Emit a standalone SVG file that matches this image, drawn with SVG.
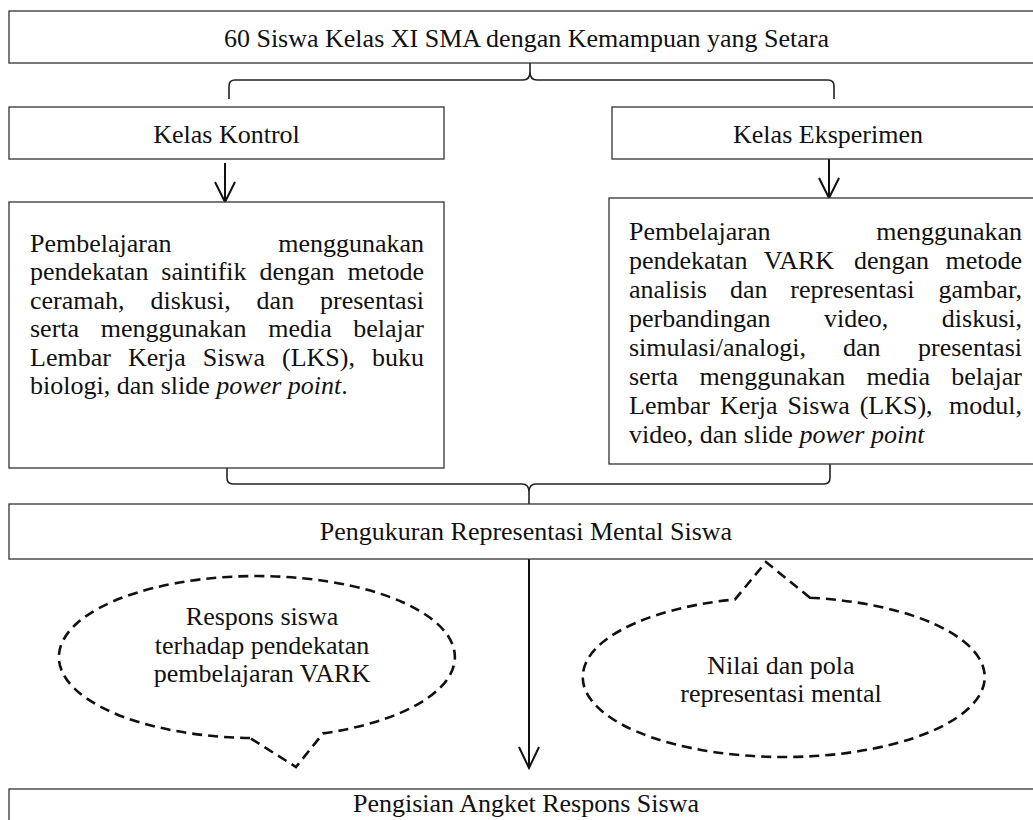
<svg xmlns="http://www.w3.org/2000/svg" width="1033" height="820" viewBox="0 0 1033 820">
<style>
.box{fill:#fff;stroke:#333;stroke-width:1.3}
.t{font-family:"Liberation Serif","Times New Roman",serif;font-size:26px;fill:#111}
.c{text-anchor:middle}
.e{text-anchor:end}
.i{font-style:italic}
.ln{fill:none;stroke:#111;stroke-width:2}
.br{fill:none;stroke:#222;stroke-width:1.6}
.bub{fill:none;stroke:#111;stroke-width:2.6;stroke-dasharray:10 6}
</style>
<rect width="1033" height="820" fill="#fff"/>
<g id="connectors">
<path class="br" d="M229,99 L229,86 Q229,80 235,80 L523,80 Q530,80 530,72 L530,63 M530,72 Q530,80 537,80 L828,80 Q834,80 834,86 L834,99"/>
<path class="ln" d="M225,163 L225,201 M215,182 L225,202 L235,182"/>
<path class="ln" d="M829,159 L829,197 M819,178 L829,198 L839,178"/>
<path class="br" d="M227,468 L227,478 Q227,484 233,484 L522,484 Q529,484 529,492 L529,504 M529,492 Q529,484 536,484 L824,484 Q830,484 830,478 L830,464"/>
<path class="ln" d="M529,559 L529,767 M519,747 L529,768 L539,747"/>
</g>
<g id="n-top">
<rect class="box" x="9" y="11" width="1035" height="52"/>
<text class="t c" x="526.5" y="47">60 Siswa Kelas XI SMA dengan Kemampuan yang Setara</text>
</g>
<g id="n-kontrol">
<rect class="box" x="9" y="107" width="435" height="52"/>
<text class="t c" x="226.5" y="143">Kelas Kontrol</text>
</g>
<g id="n-eksperimen">
<rect class="box" x="612" y="107" width="432" height="52"/>
<text class="t c" x="828" y="143">Kelas Eksperimen</text>
</g>
<g id="n-kontrol-detail">
<rect class="box" x="9" y="202" width="435" height="266"/>
<text class="t" y="252"><tspan x="30">Pembelajaran</tspan><tspan x="424" class="e">menggunakan</tspan></text>
<text class="t" y="280.4"><tspan x="30">pendekatan</tspan><tspan x="161.3">saintifik</tspan><tspan x="259.4">dengan</tspan><tspan x="424" class="e">metode</tspan></text>
<text class="t" y="308.8"><tspan x="30">ceramah,</tspan><tspan x="150.5">diskusi,</tspan><tspan x="256.6">dan</tspan><tspan x="424" class="e">presentasi</tspan></text>
<text class="t" y="337.2"><tspan x="30">serta</tspan><tspan x="100.7">menggunakan</tspan><tspan x="268.2">media</tspan><tspan x="424" class="e">belajar</tspan></text>
<text class="t" y="365.6"><tspan x="30">Lembar</tspan><tspan x="128">Kerja</tspan><tspan x="202.8">Siswa</tspan><tspan x="282">(LKS),</tspan><tspan x="424" class="e">buku</tspan></text>
<text class="t" x="30" y="394">biologi, dan slide <tspan class="i">power point</tspan>.</text>
</g>
<g id="n-eksperimen-detail">
<rect class="box" x="609" y="198" width="435" height="266"/>
<text class="t" y="240"><tspan x="629">Pembelajaran</tspan><tspan x="1022" class="e">menggunakan</tspan></text>
<text class="t" y="269"><tspan x="629">pendekatan</tspan><tspan x="763.8">VARK</tspan><tspan x="853.9">dengan</tspan><tspan x="1022" class="e">metode</tspan></text>
<text class="t" y="298"><tspan x="629">analisis</tspan><tspan x="729.9">dan</tspan><tspan x="790.3">representasi</tspan><tspan x="1022" class="e">gambar,</tspan></text>
<text class="t" y="327"><tspan x="629">perbandingan</tspan><tspan x="824">video,</tspan><tspan x="1022" class="e">diskusi,</tspan></text>
<text class="t" y="356"><tspan x="629">simulasi/analogi,</tspan><tspan x="842.9">dan</tspan><tspan x="1022" class="e">presentasi</tspan></text>
<text class="t" y="385"><tspan x="629">serta</tspan><tspan x="699.4">menggunakan</tspan><tspan x="866.6">media</tspan><tspan x="1022" class="e">belajar</tspan></text>
<text class="t" y="414"><tspan x="629">Lembar</tspan><tspan x="719.9">Kerja</tspan><tspan x="787.6">Siswa</tspan><tspan x="859.7">(LKS),</tspan><tspan x="1022" class="e">modul,</tspan></text>
<text class="t" x="629" y="443">video, dan slide <tspan class="i">power point</tspan></text>
</g>
<g id="n-pengukuran">
<rect class="box" x="9" y="504" width="1035" height="55"/>
<text class="t c" x="526" y="540">Pengukuran Representasi Mental Siswa</text>
</g>
<g id="n-respons">
<path class="bub" d="M250,738 A198,81 0 1 1 323,733.4 L296,767 Z"/>
<text class="t c" x="262" y="625">Respons siswa</text>
<text class="t c" x="262" y="653.5">terhadap pendekatan</text>
<text class="t c" x="262" y="682">pembelajaran VARK</text>
</g>
<g id="n-nilai">
<path class="bub" d="M810,597.7 A201,80 0 1 1 735,599.4 L766,562 Z"/>
<text class="t c" x="781" y="674">Nilai dan pola</text>
<text class="t c" x="781" y="702">representasi mental</text>
</g>
<g id="n-angket">
<rect class="box" x="9" y="789" width="1035" height="60"/>
<text class="t c" x="526" y="812">Pengisian Angket Respons Siswa</text>
</g>
</svg>
